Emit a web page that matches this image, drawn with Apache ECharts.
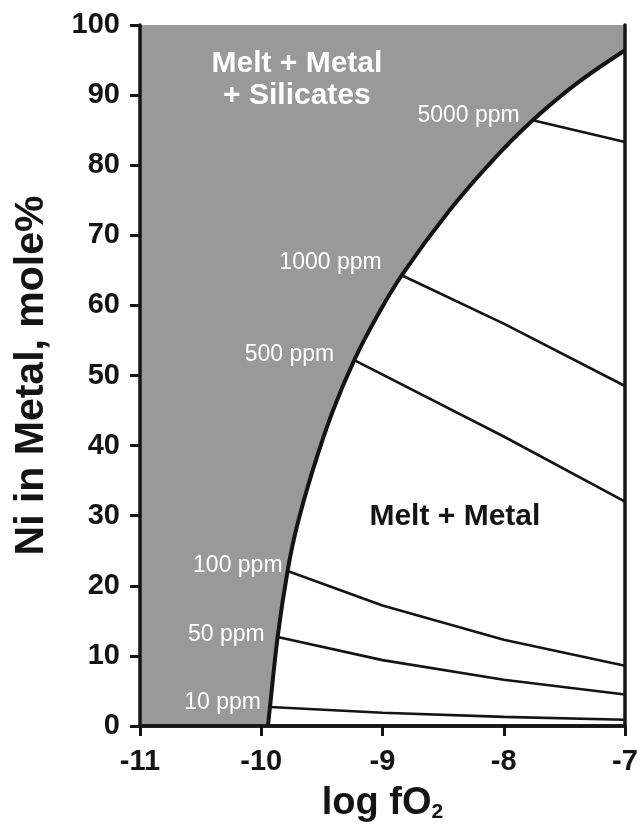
<!DOCTYPE html>
<html><head><meta charset="utf-8">
<script src="https://cdn.jsdelivr.net/npm/echarts@6/dist/echarts.min.js"></script>
<style>html,body{margin:0;padding:0;background:#fff}#c{width:642px;height:831px}</style>
</head><body><div id="c"></div>
<script>
// ---- data ----
const boundaryX = [-9.945, -9.928, -9.865, -9.783, -9.709, -9.575, -9.413, -9.233, -9.044, -8.842, -8.445, -8.091, -7.761, -7.395, -7.000];
const boundaryY = [0, 2.7, 12.7, 22.1, 28.25, 36.5, 44.8, 52.2, 58.5, 64.3, 73.6, 80.7, 86.4, 91.7, 96.4];

const ppmNames = ['10 ppm', '50 ppm', '100 ppm', '500 ppm', '1000 ppm', '5000 ppm'];
const ppm10X = [-9.928, -9, -8, -7];   const ppm10Y = [2.7, 1.9, 1.3, 0.9];
const ppm50X = [-9.865, -9, -8, -7];   const ppm50Y = [12.7, 9.4, 6.6, 4.5];
const ppm100X = [-9.783, -9, -8, -7];  const ppm100Y = [22.1, 17.2, 12.3, 8.6];
const ppm500X = [-9.233, -8, -7];      const ppm500Y = [52.2, 41.3, 32.0];
const ppm1000X = [-8.842, -8, -7];     const ppm1000Y = [64.3, 57.4, 48.5];
const ppm5000X = [-7.761, -7];         const ppm5000Y = [86.4, 83.3];

const regionNames = ['Melt + Metal\n+ Silicates', 'Melt + Metal'];
const regionX = [-9.706, -8.403];
const regionY = [92.2, 29.8];

const xTicks = [-11, -10, -9, -8, -7];
const yTicks = [0, 10, 20, 30, 40, 50, 60, 70, 80, 90, 100];

// ---- styles ----
const FONT = '"Liberation Sans", Arial, Helvetica, sans-serif';
const INK = '#141414';
// label placement tweaks (pixels) for the ppm labels: [distance, vertical offset]
const ppmLabelStyle = [[9, -4], [13, -2], [5, -5], [20, -5], [20, -13], [13, -5]];
const regionColors = ['#ffffff', INK];

// ---- build ----
const zip = (xs, ys) => xs.map((x, i) => [x, ys[i]]);
const ppmX = [ppm10X, ppm50X, ppm100X, ppm500X, ppm1000X, ppm5000X];
const ppmY = [ppm10Y, ppm50Y, ppm100Y, ppm500Y, ppm1000Y, ppm5000Y];

const series = [];
series.push({
  type: 'line', data: zip(boundaryX, boundaryY), smooth: 0.35, symbol: 'none', z: 3,
  lineStyle: { color: INK, width: 4 },
  areaStyle: { color: '#ffffff', opacity: 1, origin: 'start' }
});
ppmX.forEach((xs, i) => {
  series.push({
    type: 'line', data: zip(xs, ppmY[i]), symbol: 'none', z: 4,
    lineStyle: { color: INK, width: 2.6 }
  });
});
series.push({
  type: 'scatter', symbol: 'circle', symbolSize: 0, itemStyle: { color: '#ffffff' }, z: 6, silent: true,
  data: ppmNames.map((n, i) => ({ name: n, value: [ppmX[i][0], ppmY[i][0]],
    label: { distance: ppmLabelStyle[i][0], offset: [0, ppmLabelStyle[i][1]] } })),
  label: { show: true, position: 'left', formatter: p => p.name,
    color: '#ffffff', fontSize: 23, fontFamily: FONT, textBorderWidth: 0, opacity: 1 }
});
regionNames.forEach((n, i) => {
  series.push({
    type: 'scatter', symbol: 'circle', symbolSize: 0, itemStyle: { color: regionColors[i] }, z: 6, silent: true,
    data: [{ name: n, value: [regionX[i], regionY[i]] }],
    label: { show: true, position: 'top', distance: 0, formatter: p => p.name, fontSize: 30, fontWeight: 'bold',
      fontFamily: FONT, lineHeight: 32, align: 'center', verticalAlign: 'middle',
      color: regionColors[i], textBorderWidth: 0, opacity: 1 }
  });
});

const chart = echarts.init(document.getElementById('c'), null, { renderer: 'canvas' });
chart.setOption({
  animation: false,
  backgroundColor: '#ffffff',
  grid: { left: 140, right: 17, top: 25, bottom: 105, show: true, backgroundColor: '#999999', borderWidth: 0 },
  xAxis: [{
    type: 'value', min: xTicks[0], max: xTicks[xTicks.length - 1], interval: 1, z: 10,
    axisLine: { show: true, lineStyle: { color: INK, width: 3.5 } },
    axisTick: { show: true, length: 10, lineStyle: { color: INK, width: 3 } },
    splitLine: { show: false },
    axisLabel: { color: INK, fontSize: 29, fontWeight: 'bold', fontFamily: FONT, margin: 21 },
    name: 'log fO{sub|2}', nameLocation: 'middle', nameGap: 58,
    nameTextStyle: { color: INK, fontSize: 38, fontWeight: 'bold', fontFamily: FONT,
      rich: { sub: { fontSize: 21, fontWeight: 'bold', fontFamily: FONT, color: INK, padding: [18, 0, 0, 0] } } }
  }, {
    type: 'value', position: 'top', min: xTicks[0], max: xTicks[xTicks.length - 1], z: 10,
    axisLine: { show: true, lineStyle: { color: INK, width: 3.5 } },
    axisTick: { show: false }, axisLabel: { show: false }, splitLine: { show: false }
  }],
  yAxis: [{
    type: 'value', min: yTicks[0], max: yTicks[yTicks.length - 1], interval: 10, z: 10,
    axisLine: { show: true, lineStyle: { color: INK, width: 3.5 } },
    axisTick: { show: true, length: 10, lineStyle: { color: INK, width: 3 } },
    splitLine: { show: false },
    axisLabel: { color: INK, fontSize: 29, fontWeight: 'bold', fontFamily: FONT, margin: 20 },
    name: 'Ni in Metal, mole%', nameLocation: 'middle', nameGap: 88, nameRotate: 90,
    nameTextStyle: { color: INK, fontSize: 41, fontWeight: 'bold', fontFamily: FONT }
  }, {
    type: 'value', position: 'right', min: yTicks[0], max: yTicks[yTicks.length - 1], z: 10,
    axisLine: { show: true, lineStyle: { color: INK, width: 3.5 } },
    axisTick: { show: false }, axisLabel: { show: false }, splitLine: { show: false }
  }],
  series: series
});
</script>
</body></html>
